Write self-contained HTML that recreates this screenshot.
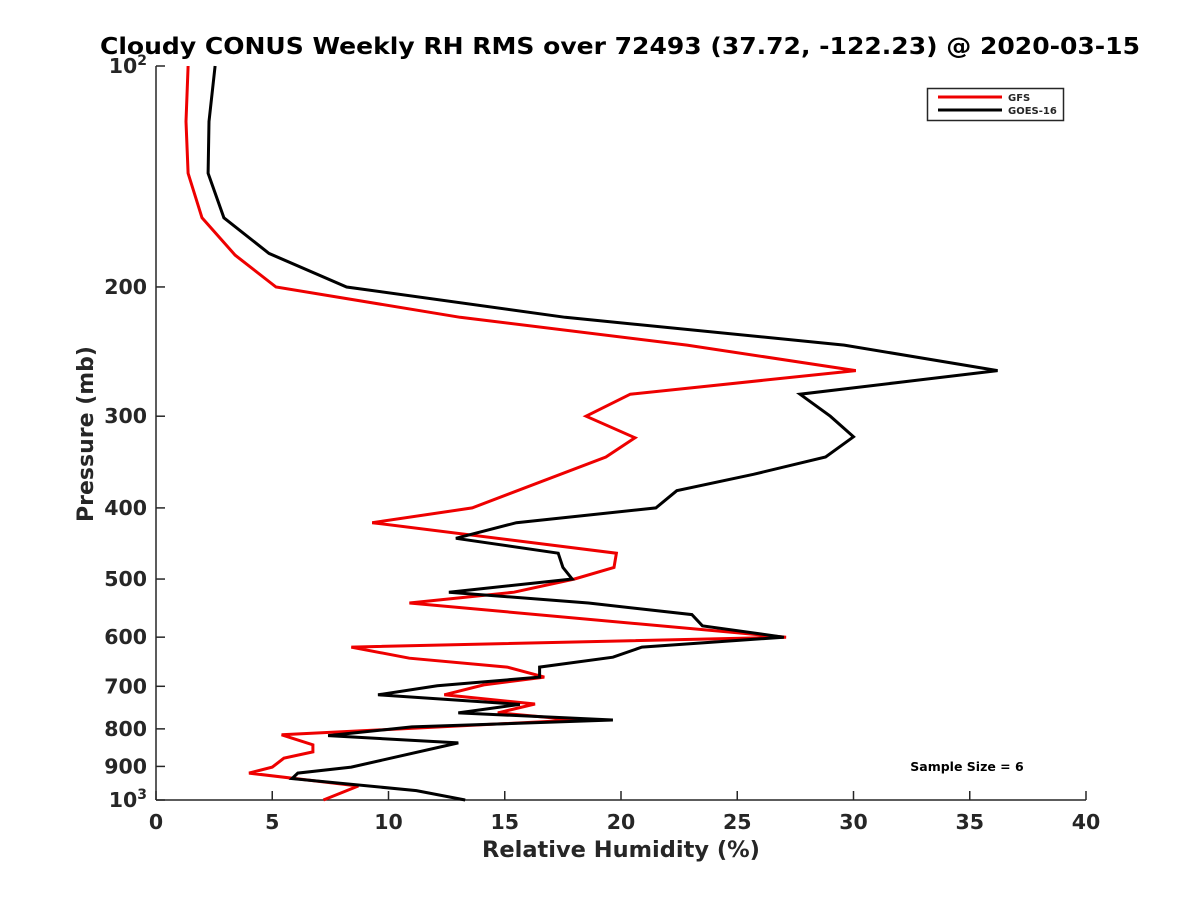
<!DOCTYPE html>
<html><head><meta charset="utf-8"><style>
body{margin:0;background:#fff;}
svg text{font-family:"DejaVu Sans","Liberation Sans",sans-serif;font-weight:bold;fill:#262626;}
</style></head><body>
<svg id="chart" width="1200" height="900" xmlns="http://www.w3.org/2000/svg">
<rect width="1200" height="900" fill="#fff"/>
<text x="100" y="54" font-size="23" textLength="1040" lengthAdjust="spacingAndGlyphs" style="fill:#000">Cloudy CONUS Weekly RH RMS over 72493 (37.72, -122.23) @ 2020-03-15</text>
<g id="axes"></g>
<g id="series"></g>
<text x="621" y="857" font-size="22.5" text-anchor="middle">Relative Humidity (%)</text>
<text transform="translate(93,434) rotate(-90)" font-size="22" text-anchor="middle">Pressure (mb)</text>
<g>
<rect x="927.5" y="88.5" width="136" height="32" fill="#fff" stroke="#262626" stroke-width="1.5"/>
<line x1="938" y1="97" x2="1002" y2="97" stroke="#e00" stroke-width="3"/>
<text x="1008" y="101" font-size="10">GFS</text>
<line x1="938" y1="110" x2="1002" y2="110" stroke="#000" stroke-width="3"/>
<text x="1008" y="114" font-size="10">GOES-16</text>
</g>
<text x="967" y="771" font-size="12.5" text-anchor="middle" style="fill:#000">Sample Size = 6</text>
</svg>
<script>
const gfsRH=[1.38,1.29,1.38,1.98,3.40,5.16,13.08,22.84,30.1,20.4,18.5,20.6,19.35,13.6,9.3,19.8,19.7,18.0,15.4,10.9,27.1,8.4,10.9,15.1,16.7,14.1,12.4,16.3,14.7,18.1,5.4,6.75,6.75,5.5,5.0,4.0,8.7,7.2];
const gfsP=[100,119,140,161,181,200,220,240,260,280,300,321,341,400,419,461,482,500,521,539,600,619,641,659,680,697,719,740,761,778,815,841,860,877,902,919,957,1000];
const goesRH=[2.54,2.28,2.24,2.92,4.86,8.2,17.6,29.6,36.2,27.7,29.0,30.0,28.8,25.7,22.4,21.5,15.5,12.9,17.3,17.5,17.9,12.6,18.6,23.05,23.5,27.0,20.9,19.65,16.5,16.5,12.1,9.55,15.65,13.0,19.65,11.0,7.4,13.0,8.4,6.1,5.85,11.2,13.3];
const goesP=[100,119,140,161,180,200,220,240,260,280,300,320,341,360,379,400,419,440,461,482,500,521,539,559,579,600,619,639,659,680,699,719,741,761,778,795,817,836,902,919,935,971,1000];
const xTicks=[0,5,10,15,20,25,30,35,40];
const yTicks=[100,200,300,400,500,600,700,800,900,1000];
const yTickLabels=["10|2","200","300","400","500","600","700","800","900","10|3"];
const L=156,R=1086,T=66,B=800;
const X=v=>L+(v-0)/(40-0)*(R-L);
const Y=p=>T+Math.log10(p/100)*(B-T);
const NS="http://www.w3.org/2000/svg";
function mk(t,a,parent){const e=document.createElementNS(NS,t);for(const k in a)e.setAttribute(k,a[k]);parent.appendChild(e);return e;}
const ax=document.getElementById('axes');
let e=mk('line',{x1:L,y1:T,x2:L,y2:B,stroke:'#262626','stroke-width':1.5},ax);


e=mk('line',{x1:L,y1:B,x2:R,y2:B,stroke:'#262626','stroke-width':1.5},ax);


xTicks.forEach(v=>{
 const t=mk('line',{x1:X(v),y1:B,x2:X(v),y2:B-9,stroke:'#262626','stroke-width':1.5},ax);
 
 
 const l=mk('text',{x:X(v),y:B+29,'font-size':20.5,'text-anchor':'middle'},ax);
 l.textContent=v;
 
 
});
yTicks.forEach((p,i)=>{
 const t=mk('line',{x1:L,y1:Y(p),x2:L+9,y2:Y(p),stroke:'#262626','stroke-width':1.5},ax);
 
 
 const l=mk('text',{x:L-9,y:Y(p)+7,'font-size':20.5,'text-anchor':'end'},ax);
 const parts=yTickLabels[i].split('|');
 if(parts.length>1){
  const a=mk('tspan',{},l);a.textContent=parts[0];
  const b=mk('tspan',{dy:-8,'font-size':14},l);b.textContent=parts[1];
 } else l.textContent=parts[0];
 
 
});
const sg=document.getElementById('series');
function line(rh,p,col,name){
 const pts=rh.map((v,i)=>X(v).toFixed(1)+','+Y(p[i]).toFixed(1)).join(' ');
 const pl=mk('polyline',{points:pts,fill:'none',stroke:col,'stroke-width':3,'stroke-linejoin':'miter'},sg);
 
 
}
line(gfsRH,gfsP,'#e00','gfs-line');
line(goesRH,goesP,'#000','goes16-line');
</script>
</body></html>
